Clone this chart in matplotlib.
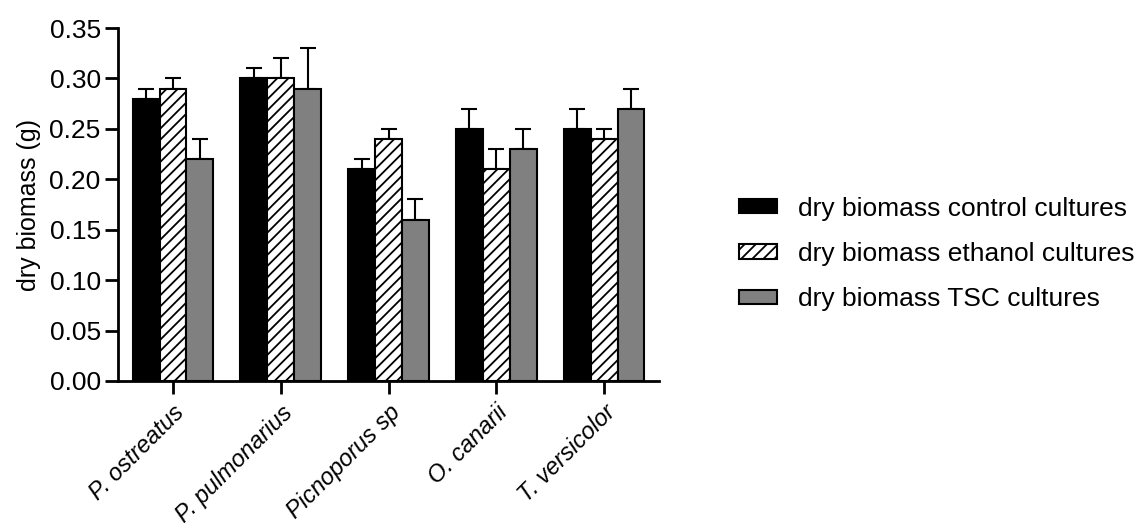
import matplotlib.pyplot as plt
import numpy as np

plt.rcParams['font.family'] = ['Liberation Sans', 'DejaVu Sans']
plt.rcParams['hatch.linewidth'] = 1.3

# data: mean dry biomass (g) and error (SD) per strain
species = ['P. ostreatus', 'P. pulmonarius', 'Picnoporus sp', 'O. canarii', 'T. versicolor']
control = [0.28, 0.30, 0.21, 0.25, 0.25]
control_err = [0.01, 0.01, 0.01, 0.02, 0.02]
ethanol = [0.29, 0.30, 0.24, 0.21, 0.24]
ethanol_err = [0.01, 0.02, 0.01, 0.02, 0.01]
tsc = [0.22, 0.29, 0.16, 0.23, 0.27]
tsc_err = [0.02, 0.04, 0.02, 0.02, 0.02]

labels = ['dry biomass control cultures', 'dry biomass ethanol cultures', 'dry biomass TSC cultures']


def main():
    fig = plt.figure(figsize=(11.37, 5.29), dpi=100)
    ax = fig.add_axes([0.1038, 0.2798, 0.4758, 0.6672])

    x = np.arange(len(species))
    w = 0.25
    series = [(control, control_err, 'black', None),
              (ethanol, ethanol_err, 'white', '///'),
              (tsc, tsc_err, '#808080', None)]
    for i, (vals, errs, color, hatch) in enumerate(series):
        pos = x + (i - 1) * w
        ax.bar(pos, vals, width=w, color=color, edgecolor='black', linewidth=1.5,
               hatch=hatch, label=labels[i], zorder=2)
        # upper error bars only
        ax.errorbar(pos, vals, yerr=[np.zeros(len(errs)), errs], fmt='none',
                    ecolor='black', elinewidth=1.5, capsize=5.5, capthick=1.5, zorder=1)

    ax.set_xlim(-0.51, 4.51)
    ax.set_ylim(0, 0.35)
    ax.set_yticks(np.arange(0, 0.351, 0.05))
    ax.set_yticklabels(['%.2f' % v for v in np.arange(0, 0.351, 0.05)])
    ax.set_xticks(x)
    ax.set_xticklabels(species, rotation=45, ha='right', rotation_mode='anchor',
                       style='italic', fontsize=17)
    ax.tick_params(axis='y', labelsize=19, width=2, length=9.5, direction='out', pad=3)
    ax.tick_params(axis='x', width=2, length=9.5, direction='out', pad=5)
    ax.set_ylabel('dry biomass (g)', fontsize=18, labelpad=6)
    for side in ['top', 'right']:
        ax.spines[side].set_visible(False)
    for side in ['left', 'bottom']:
        ax.spines[side].set_linewidth(2)

    fig.legend(loc='center left', bbox_to_anchor=(0.650, 0.52), frameon=False,
               fontsize=19, handlelength=1.45, handleheight=0.45, labelspacing=0.8,
               handletextpad=0.8, borderpad=0, borderaxespad=0)

    plt.savefig('out.png', dpi=100)


if __name__ == '__main__':
    main()
